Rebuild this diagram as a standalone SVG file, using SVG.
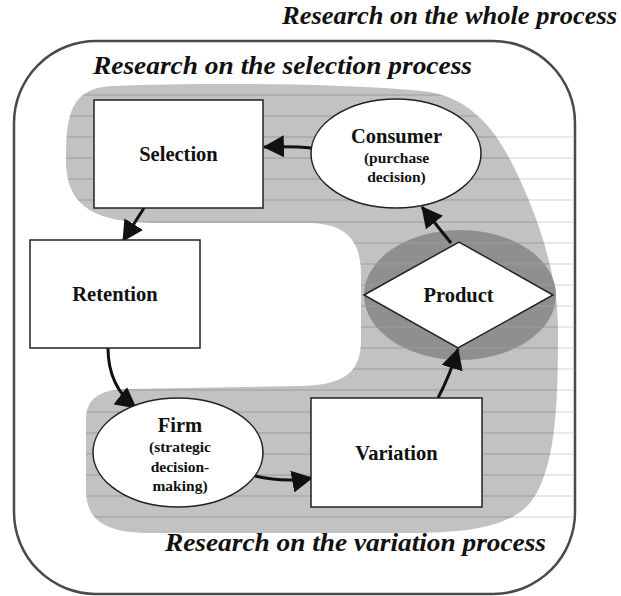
<svg xmlns="http://www.w3.org/2000/svg" width="621" height="596" viewBox="0 0 621 596">
<defs>
<style>
.title{font-family:"Liberation Serif","Times New Roman",serif;font-weight:bold;font-style:italic;font-size:26px;fill:#111}
.box{fill:#fff;stroke:#222;stroke-width:1.5}
.lbl{font-family:"Liberation Serif","Times New Roman",serif;font-weight:bold;font-size:20.5px;fill:#111;text-anchor:middle}
.sub{font-family:"Liberation Serif","Times New Roman",serif;font-weight:bold;font-size:15.5px;fill:#111;text-anchor:middle}
.conn{fill:none;stroke:#111;stroke-width:3}
.hl{fill:none;stroke:#9c9c9c;stroke-width:1}
.hlf{fill:none;stroke:#d2d2d2;stroke-width:1}
</style>
<marker id="ah" markerUnits="userSpaceOnUse" markerWidth="21" markerHeight="22" refX="20" refY="11" orient="auto" viewBox="0 0 21 22"><path d="M0,0L21,11L0,22Z" fill="#111"/></marker>
<clipPath id="blobClip"><path d="M66,160 C66,112 72,88 112,86 C220,82 360,84 430,92 C475,100 500,135 520,180 C542,228 558,280 558,330 C558,405 556,470 530,503 C508,528 465,532 420,533 L150,533 C102,533 86,518 86,490 L86,420 C86,398 100,389 130,389 L300,386 C345,385 361,372 361,340 L361,275 C361,240 346,224 310,223 L160,223 C96,223 66,208 66,160 Z"/></clipPath>
<clipPath id="rightClip"><rect x="470" y="130" width="104" height="392"/></clipPath>
</defs>
<rect width="621" height="596" fill="#fff"/>

<g id="region-whole">
<rect x="14" y="41" width="561" height="553" rx="82" ry="82" fill="none" stroke="#4a4a4a" stroke-width="2.5"/>
<text class="title" x="282" y="24" textLength="335" lengthAdjust="spacingAndGlyphs">Research on the whole process</text>
</g>

<g id="region-selection">
<path class="hlf" clip-path="url(#rightClip)" d="M440,137H580M440,158H580M440,179H580M440,200H580M440,222H580M440,243H580M440,264H580M440,285H580M440,306H580M440,327H580M440,348H580M440,369H580M440,390H580M440,412H580M440,433H580M440,454H580M440,475H580M440,496H580M440,517H580"/>
<path d="M66,160 C66,112 72,88 112,86 C220,82 360,84 430,92 C475,100 500,135 520,180 C542,228 558,280 558,330 C558,405 556,470 530,503 C508,528 465,532 420,533 L150,533 C102,533 86,518 86,490 L86,420 C86,398 100,389 130,389 L300,386 C345,385 361,372 361,340 L361,275 C361,240 346,224 310,223 L160,223 C96,223 66,208 66,160 Z" fill="#c2c2c2"/>
<ellipse id="product-halo" cx="460" cy="295" rx="96" ry="65" fill="#8f8f8f"/>
<path class="hl" clip-path="url(#blobClip)" d="M60,95H580M60,116H580M60,137H580M60,158H580M60,179H580M60,200H580M60,222H580M60,243H580M60,264H580M60,285H580M60,306H580M60,327H580M60,348H580M60,369H580M60,390H580M60,412H580M60,433H580M60,454H580M60,475H580M60,496H580M60,517H580"/>
<text class="title" x="93" y="74" textLength="379" lengthAdjust="spacingAndGlyphs">Research on the selection process</text>
<text class="title" x="165" y="551" textLength="381" lengthAdjust="spacingAndGlyphs">Research on the variation process</text>
</g>

<g id="connectors">
<path class="conn" marker-end="url(#ah)" d="M311,148 Q295,146 264,147"/>
<path class="conn" marker-end="url(#ah)" d="M144,208 L123,241"/>
<path class="conn" marker-end="url(#ah)" d="M108,348 C108,374 118,394 136,408"/>
<path class="conn" marker-end="url(#ah)" d="M255,476 Q285,483 312,478"/>
<path class="conn" marker-end="url(#ah)" d="M438,398 Q450,375 458,349"/>
<path class="conn" marker-end="url(#ah)" d="M451,243 L422,207"/>
</g>

<g id="node-selection">
<rect class="box" x="94" y="100" width="169" height="108"/>
<text class="lbl" x="178.5" y="161">Selection</text>
</g>
<g id="node-consumer">
<ellipse class="box" cx="396" cy="153.5" rx="85" ry="54.5"/>
<text class="lbl" x="396.5" y="143">Consumer</text>
<text class="sub" x="396.5" y="163">(purchase</text>
<text class="sub" x="396.5" y="182">decision)</text>
</g>
<g id="node-retention">
<rect class="box" x="30" y="240" width="170" height="108"/>
<text class="lbl" x="115" y="301">Retention</text>
</g>
<g id="node-product">
<path class="box" d="M364,295 L459,242 L553,295 L458,348 Z"/>
<text class="lbl" x="458.5" y="302">Product</text>
</g>
<g id="node-firm">
<ellipse class="box" cx="178" cy="452.5" rx="85" ry="54.5"/>
<text class="lbl" x="180" y="432">Firm</text>
<text class="sub" x="180" y="452">(strategic</text>
<text class="sub" x="180" y="472">decision-</text>
<text class="sub" x="180" y="491">making)</text>
</g>
<g id="node-variation">
<rect class="box" x="311" y="398" width="171" height="109"/>
<text class="lbl" x="396.5" y="460">Variation</text>
</g>
</svg>
